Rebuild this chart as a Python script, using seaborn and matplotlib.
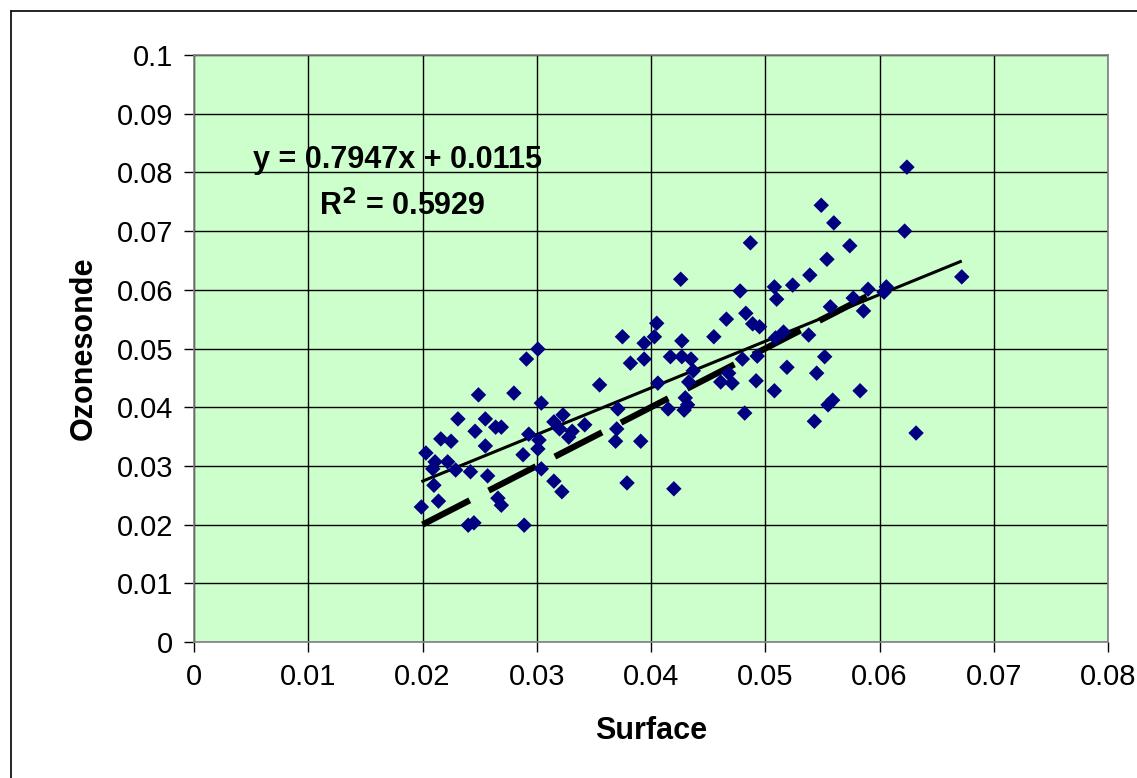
import matplotlib
matplotlib.use("Agg")
import matplotlib.pyplot as plt
import seaborn as sns
import pandas as pd
import numpy as np
from matplotlib.lines import Line2D

# ---- data ----
surface = [
    0.0301, 0.0291, 0.0249, 0.0280, 0.0304, 0.0231, 0.0255, 0.0246, 0.0264, 0.0269,
    0.0216, 0.0225, 0.0255, 0.0203, 0.0211, 0.0222, 0.0209, 0.0229, 0.0242, 0.0257,
    0.0288, 0.0293, 0.0302, 0.0301, 0.0304, 0.0315, 0.0322, 0.0210, 0.0214, 0.0199,
    0.0266, 0.0269, 0.0240, 0.0245, 0.0289, 0.0315, 0.0323, 0.0320, 0.0331, 0.0328,
    0.0342, 0.0355, 0.0487, 0.0426, 0.0508, 0.0478, 0.0510, 0.0483, 0.0466, 0.0489,
    0.0495, 0.0405, 0.0403, 0.0375, 0.0394, 0.0427, 0.0455, 0.0417, 0.0427, 0.0435,
    0.0394, 0.0382, 0.0480, 0.0493, 0.0437, 0.0468, 0.0461, 0.0471, 0.0492, 0.0508,
    0.0406, 0.0433, 0.0371, 0.0415, 0.0430, 0.0432, 0.0429, 0.0482, 0.0370, 0.0369,
    0.0391, 0.0379, 0.0420, 0.0624, 0.0549, 0.0560, 0.0622, 0.0574, 0.0554, 0.0539,
    0.0672, 0.0524, 0.0590, 0.0606, 0.0604, 0.0577, 0.0557, 0.0586, 0.0516, 0.0509,
    0.0538, 0.0552, 0.0519, 0.0545, 0.0583, 0.0559, 0.0555, 0.0543, 0.0632,
]
ozonesonde = [
    0.0499, 0.0482, 0.0421, 0.0424, 0.0407, 0.0380, 0.0380, 0.0359, 0.0366, 0.0366,
    0.0346, 0.0342, 0.0334, 0.0322, 0.0307, 0.0307, 0.0295, 0.0293, 0.0290, 0.0283,
    0.0319, 0.0354, 0.0344, 0.0329, 0.0295, 0.0274, 0.0256, 0.0267, 0.0240, 0.0230,
    0.0245, 0.0233, 0.0199, 0.0203, 0.0199, 0.0375, 0.0387, 0.0363, 0.0359, 0.0349,
    0.0370, 0.0438, 0.0680, 0.0618, 0.0605, 0.0598, 0.0584, 0.0560, 0.0550, 0.0542,
    0.0537, 0.0543, 0.0520, 0.0520, 0.0509, 0.0513, 0.0520, 0.0486, 0.0486, 0.0482,
    0.0482, 0.0475, 0.0482, 0.0487, 0.0462, 0.0458, 0.0443, 0.0441, 0.0445, 0.0428,
    0.0441, 0.0443, 0.0397, 0.0397, 0.0416, 0.0404, 0.0395, 0.0390, 0.0363, 0.0342,
    0.0342, 0.0271, 0.0261, 0.0809, 0.0744, 0.0714, 0.0700, 0.0675, 0.0652, 0.0625,
    0.0622, 0.0608, 0.0601, 0.0605, 0.0596, 0.0586, 0.0571, 0.0564, 0.0528, 0.0518,
    0.0523, 0.0486, 0.0468, 0.0458, 0.0428, 0.0412, 0.0404, 0.0376, 0.0356,
]
slope = 0.7947
intercept = 0.0115
r_squared = 0.5929
one_to_one = [0.02, 0.06]
x_ticks = [0, 0.01, 0.02, 0.03, 0.04, 0.05, 0.06, 0.07, 0.08]
x_tick_labels = ["0", "0.01", "0.02", "0.03", "0.04", "0.05", "0.06", "0.07", "0.08"]
y_ticks = [0, 0.01, 0.02, 0.03, 0.04, 0.05, 0.06, 0.07, 0.08, 0.09, 0.1]
y_tick_labels = ["0", "0.01", "0.02", "0.03", "0.04", "0.05", "0.06", "0.07", "0.08", "0.09", "0.1"]
x_label = "Surface"
y_label = "Ozonesonde"

# ---- figure ----
sns.set_style("white")
plt.rcParams["font.family"] = ["Liberation Sans", "DejaVu Sans"]
plt.rcParams["text.color"] = "black"
plt.rcParams["axes.labelcolor"] = "black"
plt.rcParams["xtick.color"] = "black"
plt.rcParams["ytick.color"] = "black"

fig = plt.figure(figsize=(11.37, 7.78), dpi=100)
ax = fig.add_axes([194 / 1137, 1 - 642 / 778, (1108 - 194) / 1137, (642 - 55) / 778])
ax.set_facecolor("#CCFFCC")

df = pd.DataFrame({"Surface": surface, "Ozonesonde": ozonesonde})

# trend line over data range
tx = np.array([min(surface), max(surface)])
trend = pd.DataFrame({"x": tx, "y": slope * tx + intercept})
sns.lineplot(data=trend, x="x", y="y", ax=ax, color="black", linewidth=2.2,
             zorder=3, solid_capstyle="butt")

# 1:1 dashed line
oo = pd.DataFrame({"x": one_to_one, "y": one_to_one})
sns.lineplot(data=oo, x="x", y="y", ax=ax, color="black", linewidth=4.5,
             linestyle=(0, (8.5, 3.4)), zorder=3, dash_capstyle="butt")

sns.scatterplot(data=df, x="Surface", y="Ozonesonde", ax=ax, marker="D",
                color="#000080", s=62, edgecolor="none", linewidth=0, zorder=4)

ax.set_xlim(0, 0.08)
ax.set_ylim(0, 0.1)
ax.set_xticks(x_ticks)
ax.set_xticklabels(x_tick_labels)
ax.set_yticks(y_ticks)
ax.set_yticklabels(y_tick_labels)
ax.grid(True, color="black", linewidth=1.0, zorder=0)
ax.set_axisbelow(True)
ax.tick_params(axis="both", which="major", direction="out", length=7, width=1,
               color="black", labelcolor="black", labelsize=21, pad=8, left=True, bottom=True)
for side in ["left", "top", "right", "bottom"]:
    ax.spines[side].set_visible(True)
    ax.spines[side].set_color("#808080")
    ax.spines[side].set_linewidth(1.2)

ax.set_xlabel(x_label, fontsize=22, fontweight="bold", labelpad=18, color="black")
ax.set_ylabel(y_label, fontsize=22, fontweight="bold", labelpad=13, color="black")

ax.text(0.0052, 0.0821, f"y = {slope}x + {intercept}", fontsize=22, fontweight="bold",
        ha="left", va="center", zorder=5, color="black")
ax.text(0.0109, 0.0743, f"R$^{{\\mathbf{{2}}}}$ = {r_squared}", fontsize=22, fontweight="bold",
        ha="left", va="center", zorder=5, color="black")

# outer chart-area border (left and top visible)
fig.add_artist(Line2D([10.5 / 1137, 10.5 / 1137], [0, 1 - 11 / 778], transform=fig.transFigure,
                      color="black", linewidth=1.2))
fig.add_artist(Line2D([10.5 / 1137, 1], [1 - 11 / 778, 1 - 11 / 778], transform=fig.transFigure,
                      color="black", linewidth=1.2))

fig.savefig("out.png", dpi=100, facecolor="white")
